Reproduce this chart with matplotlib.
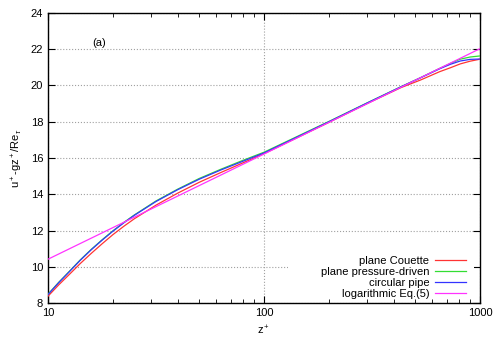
import matplotlib
matplotlib.use('Agg')
import matplotlib.pyplot as plt
from matplotlib.patches import Rectangle
import numpy as np

plt.rcParams['font.family'] = ['Liberation Sans', 'DejaVu Sans']
plt.rcParams['mathtext.fontset'] = 'custom'
plt.rcParams['mathtext.rm'] = 'Liberation Sans'
plt.rcParams['mathtext.it'] = 'Liberation Sans:italic'

# values
z = np.array([10, 11.2, 12.6, 14.1, 15.85, 17.8, 19.95, 22.4, 25.1, 31.6, 39.8, 50.1, 63.1,
              79.4, 100, 200, 300, 430, 530, 650, 730, 810, 900, 1000])
couette = np.array([8.38, 9.0, 9.6, 10.18, 10.74, 11.27, 11.77, 12.23, 12.65, 13.4, 14.06,
                    14.66, 15.2, 15.72, 16.24, 17.97, 19.0, 19.88, 20.3, 20.76, 20.98,
                    21.19, 21.34, 21.45])
pressure = np.array([8.49, 9.14, 9.77, 10.38, 10.96, 11.49, 11.98, 12.44, 12.86, 13.63, 14.28,
                     14.87, 15.38, 15.86, 16.32, 18.02, 19.04, 19.93, 20.43, 20.94, 21.22,
                     21.45, 21.57, 21.63])
pipe = np.array([8.47, 9.12, 9.75, 10.36, 10.94, 11.47, 11.96, 12.42, 12.84, 13.6, 14.25,
                 14.83, 15.34, 15.81, 16.28, 18.0, 19.03, 19.92, 20.42, 20.92, 21.17,
                 21.35, 21.44, 21.46])
z_log = np.array([10, 100, 1000])
loglaw = np.array([10.42, 16.22, 22.03])

labels = ['plane Couette', 'plane pressure-driven', 'circular pipe', 'logarithmic Eq.(5)']
colors = ['#ff3333', '#33dd33', '#3333ff', '#ff33ff']

fig = plt.figure(figsize=(5, 3.5), dpi=100)
ax = fig.add_axes([0.096, 0.134, 0.864, 0.829])
ax.set_axisbelow(True)

ax.plot(z, couette, color=colors[0], lw=0.9, label=labels[0], zorder=3)
ax.plot(z, pressure, color=colors[1], lw=0.9, label=labels[1], zorder=3)
ax.plot(z, pipe, color=colors[2], lw=0.9, label=labels[2], zorder=3)
ax.plot(z_log, loglaw, color=colors[3], lw=0.9, label=labels[3], zorder=3)

ax.set_xscale('log')
ax.set_xlim(10, 1000)
ax.set_ylim(8, 24)
ax.set_yticks(np.arange(8, 25, 2))
ax.set_xticks([10, 100, 1000])
ax.set_xticklabels(['10', '100', '1000'])
ax.tick_params(which='both', direction='in', top=True, right=True, labelsize=8)
ax.tick_params(which='major', length=5)
ax.tick_params(which='minor', length=3)
ax.grid(True, which='major', color='#a0a0a0', linestyle=':', lw=0.8)
for s in ax.spines.values():
    s.set_linewidth(1.0)

# white key box hiding the grid behind the legend
ax.add_patch(Rectangle((0.556, 0.025), 0.43, 0.175, transform=ax.transAxes,
                       facecolor='white', edgecolor='none', zorder=1))

ax.set_xlabel(r'z$^+$', fontsize=8)
ax.set_ylabel(r'u$^+$-gz$^+$/Re$_\tau$', fontsize=8)
ax.text(16, 22.34, '(a)', fontsize=8, va='center')

leg = ax.legend(loc='lower right', bbox_to_anchor=(0.984, -0.010), fontsize=8,
                markerfirst=False, frameon=False, handlelength=2.8, handletextpad=0.55,
                labelspacing=0.1, borderaxespad=0.3, borderpad=0.3)
for t in leg.get_texts():
    t.set_ha('right')

fig.savefig('out.png', dpi=100)
